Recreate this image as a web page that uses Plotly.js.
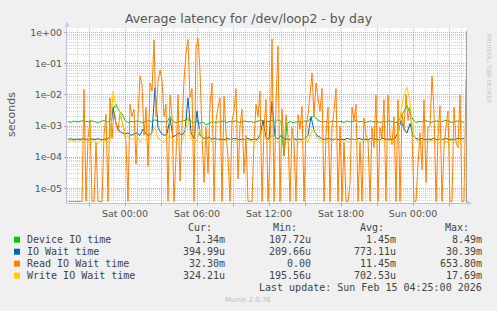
<!DOCTYPE html>
<html>
<head>
<meta charset="utf-8">
<script src="https://cdn.plot.ly/plotly-3.0.1.min.js"></script>
<style>html,body{margin:0;padding:0;background:#f0f0f0;}#chart{width:497px;height:311px;}</style>
</head>
<body>
<div id="chart"></div>
<script>
// ---- DATA (values in milliseconds) ----
const seriesNames = ['Device IO time', 'IO Wait time', 'Read IO Wait time', 'Write IO Wait time'];
const seriesColors = ['#00CC00', '#0066B3', '#FF8000', '#FFCC00'];
// device / io-wait / write series: 15-minute samples from Fri 2026-02-13 19:15
const startTime = Date.UTC(2026, 1, 13, 19, 15);
const stepMinutes = 15;
// read series: 10-minute samples from Fri 2026-02-13 19:15
const readStepMinutes = 10;

const deviceIO = [
  1.4,1.3,1.45,1.35,1.4,1.5,1.4,1.35,1.45,1.4,
  1.3,1.4,1.5,1.35,1.4,3.5,5.0,3.0,2.5,1.5,
  1.3,1.4,1.35,1.45,1.4,1.3,1.4,1.5,1.35,1.6,
  1.4,1.35,1.4,1.3,2.0,1.4,1.3,1.35,1.4,1.5,
  1.8,1.4,1.3,1.45,1.2,1.35,1.1,1.2,1.4,1.3,
  1.35,1.4,1.45,1.3,1.4,1.35,1.5,1.3,1.4,1.45,
  1.35,1.4,1.3,1.4,1.5,1.45,1.35,1.4,1.5,1.3,
  1.6,1.4,0.108,1.2,1.4,1.3,1.35,1.4,1.3,1.45,
  1.4,1.8,2.1,1.6,1.4,1.35,1.4,1.3,1.45,1.4,
  1.35,1.4,1.3,1.45,1.35,1.4,1.5,1.35,1.4,1.3,
  1.4,1.45,1.35,1.4,1.3,1.4,1.35,1.45,1.4,1.3,
  1.35,2.0,3.0,4.5,2.5,1.6,1.3,1.4,1.35,1.5,
  1.4,1.3,1.4,1.45,1.35,1.4,1.5,1.4,1.3,1.4,
  1.45,1.35,1.34
];
const ioWait = [
  0.37,0.39,0.36,0.38,0.37,0.39,0.37,0.35,0.38,0.37,
  0.39,0.36,0.37,0.38,0.45,4,1.2,0.7,0.6,0.55,
  0.6,0.5,0.55,0.6,0.5,0.8,0.55,0.5,0.6,17,
  0.9,0.6,0.5,0.55,1.7,0.45,0.5,0.6,0.5,0.7,
  8,0.6,0.4,3,0.5,0.42,0.38,0.45,0.37,0.4,
  0.37,0.38,0.36,0.4,0.37,0.38,0.4,0.36,0.38,0.37,
  0.4,0.36,0.38,0.37,0.5,1.5,0.42,0.37,6,0.45,
  0.38,0.5,0.37,0.38,0.36,0.4,0.37,0.38,0.36,0.4,
  0.5,2,0.7,0.5,0.42,0.37,0.38,0.4,0.36,0.38,
  0.37,0.38,0.36,0.4,0.37,0.38,0.36,0.4,0.37,0.38,
  0.36,0.4,0.37,0.38,0.36,0.4,0.37,0.38,0.36,0.4,
  0.6,1.5,0.8,0.6,1.2,0.5,0.4,0.37,0.4,0.36,
  0.38,0.37,0.4,0.36,0.38,0.37,0.4,0.36,0.38,0.37,
  0.4,0.38,0.395
];
const readIOWait = [
  0,0,0,0,0,0,0,0,15,0,
  0.4,1.6,0,0,0.3,0,0,0,0.5,2.4,
  0,8,0.4,3,1.2,0.7,2.5,1.5,0.8,0.3,
  0,5,2,3.5,0.06,2,40,21,0.5,4,
  0.05,24,13,580,2,27,63,30,2,5,
  0,10,2,0,0.1,10,0.017,1,30,220,
  600,8,16,0,320,653.8,60,0.5,0.015,0.9,
  0.03,5,24,0,1.5,4,8,0,9,0.6,
  0.1,0,1.5,3,16,0.02,1,3.5,0.03,0.5,
  0,0,0,0.3,5,2,13,0,0.8,7,
  0,0.12,630,0,4.9,370,0,3.5,0.12,2.3,
  0.5,0,0.9,0.3,0,2.3,0.8,4.3,0,1,
  2.3,10,50,2,24,8,3,16,0,0.5,
  4,0,0.9,3,16,0,1,0,0.3,0,
  0,0.013,4,1.5,5,0,0.3,0,1.8,0.5,
  0.35,0,0.9,0.2,10,0,0.9,0.4,7,0,
  10,0.5,0.25,2,0,7,0,2.5,0.8,10,
  1.5,4,0.6,0,0,0.06,0.6,0.04,7,0.015,
  0.9,1,40,3,0,0.4,4.5,0,0.2,0.9,
  3,0,0,4,0.3,0.2,10,0,0,32.3
];
const writeIOWait = [
  0.3,0.35,0.32,0.3,0.35,0.33,0.3,0.36,0.32,0.34,
  0.27,0.33,0.35,0.3,0.33,13,4,3.5,1.5,0.5,
  0.45,0.4,0.35,0.5,0.3,0.4,0.35,0.3,0.6,0.9,
  0.4,0.35,0.3,0.4,0.5,0.35,0.3,0.4,0.32,0.6,
  2.0,0.4,0.3,0.35,0.8,0.3,0.35,0.4,0.3,0.32,
  0.38,0.3,0.35,0.33,0.4,0.3,0.35,0.32,0.3,0.4,
  0.35,0.33,0.3,0.35,0.4,0.9,0.35,0.3,0.5,0.35,
  0.3,0.4,0.35,0.3,0.35,0.4,0.32,0.3,0.35,0.4,
  0.3,0.6,0.8,0.4,0.35,0.3,0.32,0.35,0.3,0.4,
  0.33,0.3,0.35,0.32,0.3,0.4,0.35,0.3,0.33,0.35,
  0.3,0.32,0.35,0.3,0.4,0.33,0.3,0.35,0.32,0.3,
  0.45,3,10,17.69,6,0.6,0.35,0.3,0.33,0.35,
  0.3,0.35,0.32,0.3,0.4,0.35,0.3,0.33,0.35,0.3,
  0.32,0.35,0.324
];

const statHeaders = ['Cur:', 'Min:', 'Avg:', 'Max:'];
const statCur = ['1.34m', '394.99u', '32.30m', '324.21u'];
const statMin = ['107.72u', '209.66u', '0.00', '195.56u'];
const statAvg = ['1.45m', '773.11u', '11.45m', '702.53u'];
const statMax = ['8.49m', '30.39m', '653.80m', '17.69m'];

const yTickVals = [1, 0.1, 0.01, 0.001, 0.0001, 0.00001];
const yTickText = ['1e+00', '1e-01', '1e-02', '1e-03', '1e-04', '1e-05'];
const xTickVals = ['2026-02-13 21:00','2026-02-14 00:00','2026-02-14 03:00','2026-02-14 06:00','2026-02-14 09:00',
  '2026-02-14 12:00','2026-02-14 15:00','2026-02-14 18:00','2026-02-14 21:00','2026-02-15 00:00','2026-02-15 03:00'];
const xTickText = ['', 'Sat 00:00', '', 'Sat 06:00', '', 'Sat 12:00', '', 'Sat 18:00', '', 'Sun 00:00', ''];
const xRange = ['2026-02-13 19:10', '2026-02-15 04:25'];
const yRangeLog = [-5.476, 0.151];

// ---- BUILD ----
function fmt(ms) { return new Date(ms).toISOString().slice(0, 16).replace('T', ' '); }
const times = deviceIO.map((_, i) => fmt(startTime + i * stepMinutes * 60000));
const readTimes = readIOWait.map((_, i) => fmt(startTime + i * readStepMinutes * 60000));
const floorVal = Math.pow(10, yRangeLog[0] + 0.05); // zero values are drawn on the floor of the log axis
const toSec = arr => arr.map(v => v === 0 ? floorVal : v / 1000);

const allSeries = [deviceIO, ioWait, readIOWait, writeIOWait];
const allTimes = [times, times, readTimes, times];
const traces = allSeries.map((arr, k) => ({
  x: allTimes[k], y: toSec(arr), type: 'scatter', mode: 'lines',
  name: seriesNames[k], line: {color: seriesColors[k], width: 1}, hoverinfo: 'skip'
}));

const W = 497, H = 311, L = 67, R = 466, T = 28, B = 203;
const px = x => (x - L) / (R - L);
const py = y => (B - y) / (B - T);

const mono = {family: 'DejaVu Sans Mono', size: 10, color: '#444'};
const ann = [];
function addText(text, x, y, anchor, font, extra) {
  ann.push(Object.assign({text: text, x: px(x), y: py(y), xref: 'paper', yref: 'paper',
    xanchor: anchor, yanchor: 'middle', showarrow: false, font: font, borderpad: 0}, extra || {}));
}
addText('seconds', 11, 115, 'center', {family: 'DejaVu Sans', size: 11, color: '#555'}, {textangle: -90});
addText('RRDTOOL/ TOBI OETIKER', 489, 68, 'center', {family: 'DejaVu Sans', size: 5.5, color: '#c4c4c4'}, {textangle: 90});
const headerRight = [212.7, 298.3, 385, 470];
statHeaders.forEach((h, i) => addText(h, headerRight[i], 227.7, 'right', mono));
const rowY = [239.7, 251.7, 263.7, 275.7];
const colRight = [225.7, 311.7, 396.7, 482.7];
const shapes = [];
seriesNames.forEach((n, k) => {
  addText(n, 26, rowY[k], 'left', mono);
  [statCur, statMin, statAvg, statMax].forEach((col, c) => addText(col[k], colRight[c], rowY[k], 'right', mono));
  shapes.push({type: 'rect', xref: 'paper', yref: 'paper', x0: px(14), x1: px(20), y0: py(rowY[k] + 3), y1: py(rowY[k] - 3),
    fillcolor: seriesColors[k], line: {width: 0}});
});
addText('Last update: Sun Feb 15 04:25:00 2026', 482.7, 287.5, 'right', mono);
addText('Munin 2.0.76', 248, 300, 'center', {family: 'DejaVu Sans', size: 7, color: '#bdbdbd'});

shapes.push({type: 'line', xref: 'paper', yref: 'paper', x0: px(466.5), x1: px(466.5), y0: py(203), y1: py(31),
  line: {color: '#a0a0a0', width: 1}});
shapes.push({type: 'path', xref: 'paper', yref: 'paper',
  path: `M ${px(64.5)} ${py(27)} L ${px(69.5)} ${py(27)} L ${px(67)} ${py(21.5)} Z`, fillcolor: '#c8c8f0', line: {width: 0}});
shapes.push({type: 'path', xref: 'paper', yref: 'paper',
  path: `M ${px(467)} ${py(200.5)} L ${px(467)} ${py(205.5)} L ${px(472)} ${py(203)} Z`, fillcolor: '#c8c8f0', line: {width: 0}});

const majorGrid = 'rgba(230,120,120,0.55)';
const minorGrid = 'rgba(170,170,170,0.5)';

const layout = {
  width: W, height: H,
  margin: {l: L, r: W - R, t: T, b: H - B, pad: 0},
  paper_bgcolor: '#f0f0f0', plot_bgcolor: '#ffffff',
  showlegend: false,
  title: {text: 'Average latency for /dev/loop2 - by day', x: 0.5, xref: 'container', y: 1 - 19 / H, yref: 'container',
    xanchor: 'center', yanchor: 'middle', font: {family: 'DejaVu Sans', size: 12.5, color: '#555'}},
  xaxis: {
    type: 'date', range: xRange, tickmode: 'array', tickvals: xTickVals, ticktext: xTickText,
    showgrid: true, gridcolor: majorGrid, griddash: '1px,1px', gridwidth: 1,
    minor: {dtick: 3600000, tick0: '2026-02-14 00:00', showgrid: true, gridcolor: minorGrid, griddash: '1px,1px', ticks: ''},
    showline: true, linecolor: '#c0c0dc', linewidth: 1, zeroline: false,
    ticks: 'outside', ticklen: 2, tickcolor: 'rgba(230,120,120,0.8)',
    tickfont: {family: 'DejaVu Sans', size: 9.5, color: '#555'}, fixedrange: true
  },
  yaxis: {
    type: 'log', range: yRangeLog, tickmode: 'array', tickvals: yTickVals, ticktext: yTickText,
    showgrid: true, gridcolor: majorGrid, griddash: '1px,1px', gridwidth: 1,
    minor: {dtick: 'D1', showgrid: true, gridcolor: minorGrid, griddash: '1px,1px', ticks: ''},
    showline: true, linecolor: '#c0c0dc', linewidth: 1, zeroline: false,
    ticks: 'outside', ticklen: 2, tickcolor: 'rgba(230,120,120,0.8)',
    tickfont: {family: 'DejaVu Sans', size: 9.5, color: '#555'}, fixedrange: true
  },
  annotations: ann,
  shapes: shapes
};

Plotly.newPlot('chart', traces, layout, {displayModeBar: false, staticPlot: true});
</script>
</body>
</html>
